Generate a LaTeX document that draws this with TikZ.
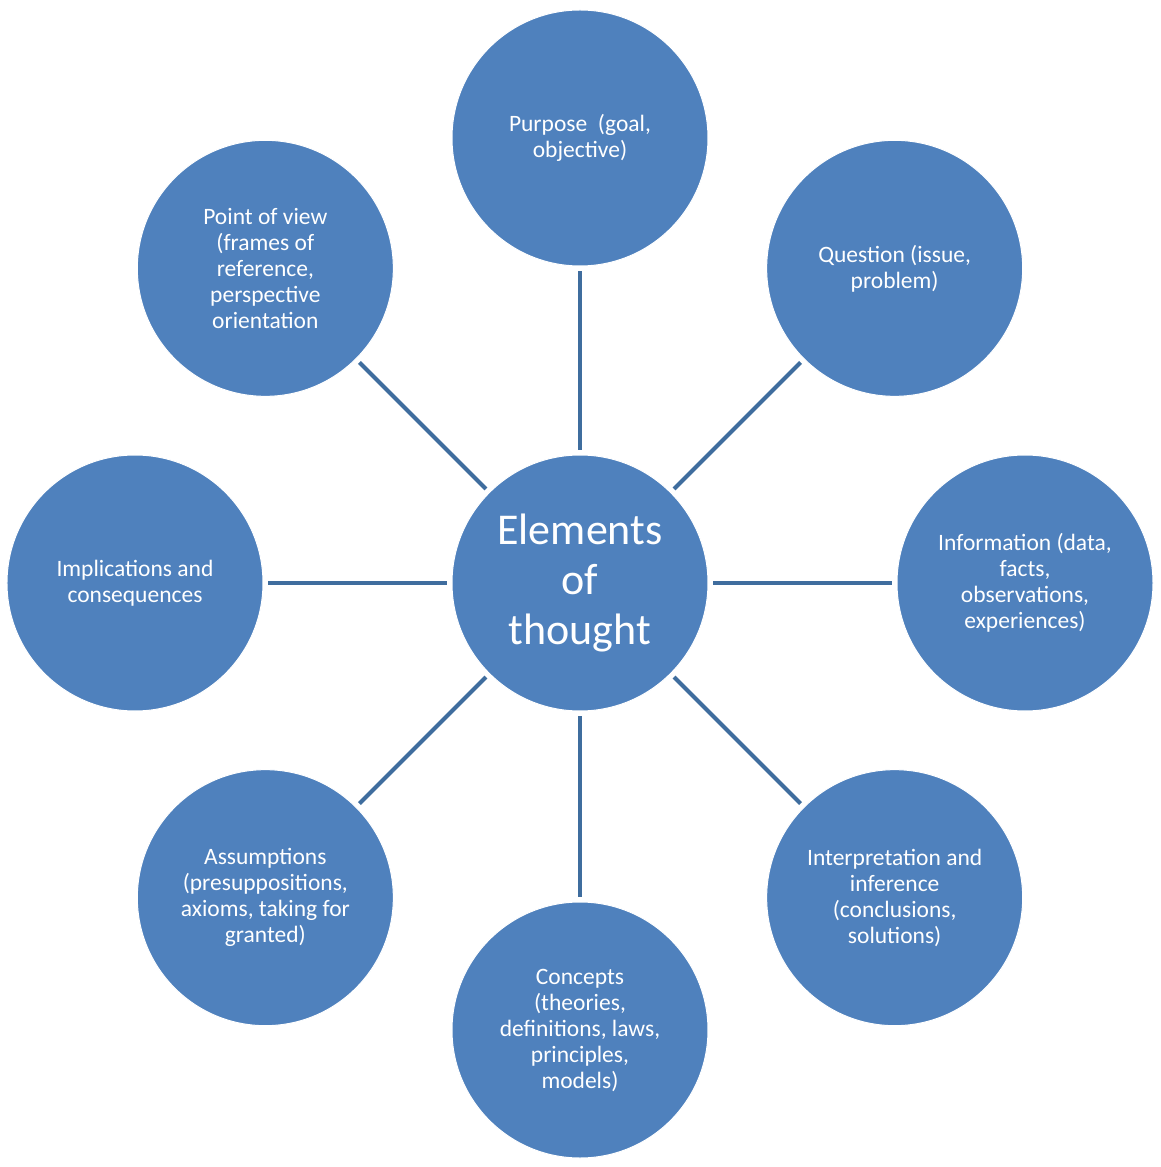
\documentclass[tikz,border=0pt]{standalone}
\usepackage{fontspec}
\setmainfont{Carlito}
\usepackage{tikz}

\definecolor{elfill}{HTML}{4F81BD}
\definecolor{elline}{HTML}{3F6D9E}

\begin{document}
\begin{tikzpicture}[x=1pt,y=1pt,
  elem/.style={circle,fill=elfill,draw=white,line width=1pt,minimum size=256pt,inner sep=0pt,
    outer sep=5pt,align=center,text=white,font=\fontsize{23.5}{26}\selectfont},
  link/.style={elline,line width=4pt}]
\useasboundingbox (-580,-584) rectangle (580,583);
\node[elem,font=\fontsize{44}{50}\selectfont] (core) at (0,0) {Elements\\of\\thought};
\node[elem] (purp) at (90:445) {Purpose\ \ (goal,\\objective)};
\node[elem] (ques) at (45:445) {Question (issue,\\problem)};
\node[elem] (info) at (0:445) {Information (data,\\facts,\\observations,\\experiences)};
\node[elem] (intp) at (-45:445) {Interpretation and\\inference\\(conclusions,\\solutions)};
\node[elem] (conc) at (-90:447) {Concepts\\(theories,\\definitions, laws,\\principles,\\models)};
\node[elem] (assu) at (-135:445) {Assumptions\\(presuppositions,\\axioms, taking for\\granted)};
\node[elem] (impl) at (180:445) {Implications and\\consequences};
\node[elem] (pview) at (135:445) {Point of view\\(frames of\\reference,\\perspective\\orientation};
\draw[link] (core) -- (purp);
\draw[link] (core) -- (ques);
\draw[link] (core) -- (info);
\draw[link] (core) -- (intp);
\draw[link] (core) -- (conc);
\draw[link] (core) -- (assu);
\draw[link] (core) -- (impl);
\draw[link] (core) -- (pview);
\end{tikzpicture}
\end{document}
